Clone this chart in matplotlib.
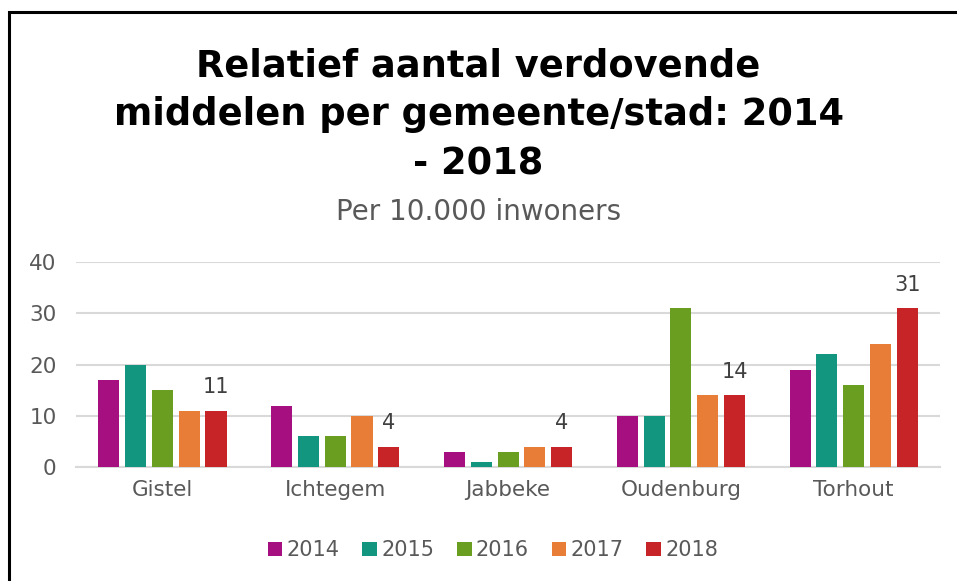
import matplotlib
matplotlib.use("Agg")
import matplotlib.pyplot as plt
import numpy as np
from matplotlib.patches import Rectangle

categories = ["Gistel", "Ichtegem", "Jabbeke", "Oudenburg", "Torhout"]
years = ["2014", "2015", "2016", "2017", "2018"]
v2014 = [17, 12, 3, 10, 19]
v2015 = [20, 6, 1, 10, 22]
v2016 = [15, 6, 3, 31, 16]
v2017 = [11, 10, 4, 14, 24]
v2018 = [11, 4, 4, 14, 31]
series = [v2014, v2015, v2016, v2017, v2018]
colors = ["#A50F80", "#139680", "#6A9E20", "#E87D38", "#C62426"]
yticks = [0, 10, 20, 30, 40]

plt.rcParams['font.family'] = ['DejaVu Sans']
fig = plt.figure(figsize=(9.57, 5.81), dpi=100)
ax = fig.add_axes([0.0794, 0.196, 0.903, 0.353])

x = np.arange(len(categories))
step = 0.155
width = 0.122
for i, (vals, col, yr) in enumerate(zip(series, colors, years)):
    pos = x + (i - 2) * step
    bars = ax.bar(pos, vals, width, color=col, label=yr, zorder=3)
    if i == len(series) - 1:
        for b, v in zip(bars, vals):
            ax.text(b.get_x() + b.get_width() / 2, v + 2.6, str(v), ha="center", va="bottom",
                    fontsize=15, color="#404040")

ax.set_xlim(-0.5, 4.5)
ax.set_ylim(0, 40)
ax.set_yticks(yticks)
ax.set_xticks(x)
ax.set_xticklabels(categories)
ax.tick_params(axis="both", length=0, labelsize=15.5, labelcolor="#595959")
ax.tick_params(axis="y", pad=14)
ax.tick_params(axis="x", pad=9)
ax.grid(axis="y", color="#D9D9D9", linewidth=1.5, zorder=0)
for s in ["left", "right", "top"]:
    ax.spines[s].set_visible(False)
ax.spines["bottom"].set_color("#D9D9D9")
ax.spines["bottom"].set_linewidth(1.5)

fig.text(0.5, 0.919, "Relatief aantal verdovende\nmiddelen per gemeente/stad: 2014\n- 2018",
         ha="center", va="top", fontsize=26.5, fontweight="bold", color="black", linespacing=1.42)
fig.text(0.5, 0.635, "Per 10.000 inwoners", ha="center", va="center", fontsize=20, color="#595959")

leg = fig.legend(loc="center", bbox_to_anchor=(0.515, 0.053), ncol=5, frameon=False,
                 fontsize=15, handlelength=0.7, handleheight=0.7, handletextpad=0.2,
                 columnspacing=1.1, labelcolor="#595959")

fig.patches.append(Rectangle((9 / 957, -0.1), 1.2, 1 - 12.5 / 581 + 0.1, transform=fig.transFigure,
                             fill=False, edgecolor="black", linewidth=2.2, zorder=10))

fig.savefig("out.png", dpi=100)
